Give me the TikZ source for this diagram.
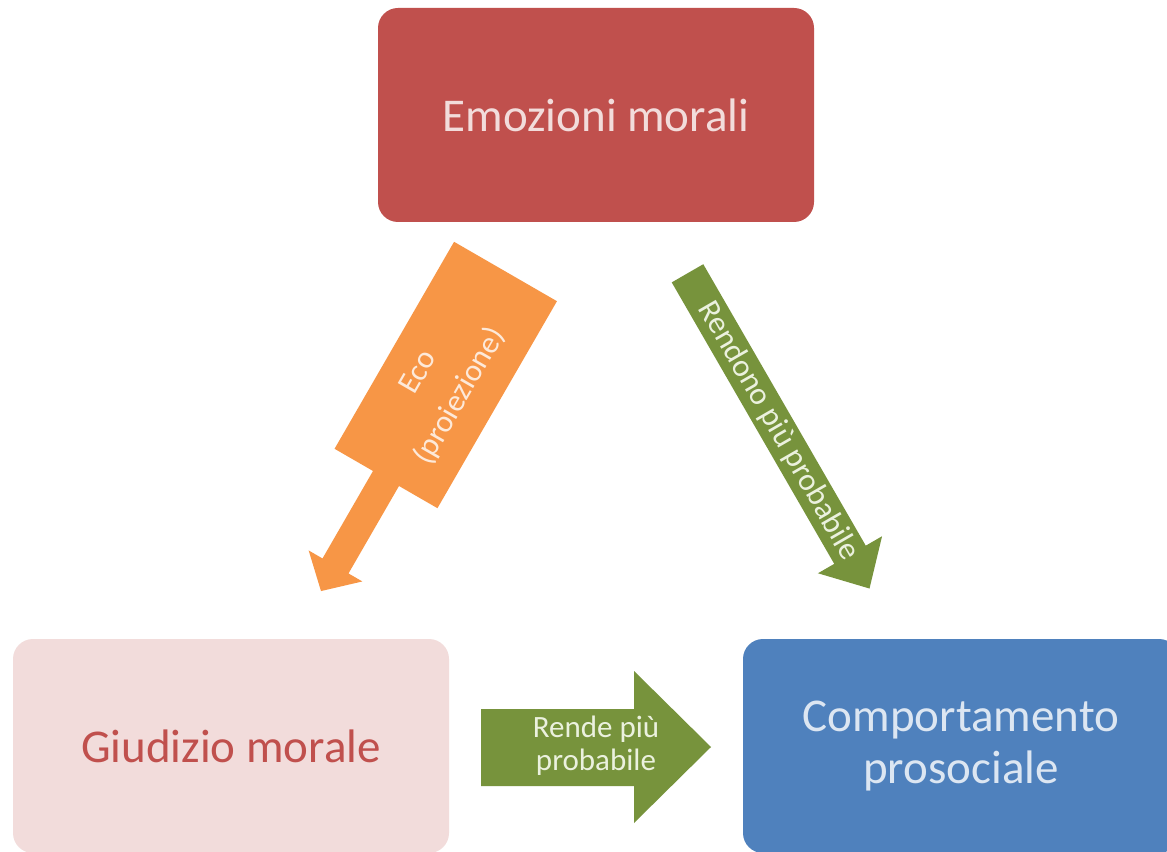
\documentclass[tikz,border=0pt]{standalone}
\usepackage{fontspec}
\setmainfont{Carlito}
\definecolor{redbox}{HTML}{C0504D}
\definecolor{pinkbox}{HTML}{F2DCDB}
\definecolor{bluebox}{HTML}{4F81BD}
\definecolor{bluetext}{HTML}{DCE6F2}
\definecolor{orangearr}{HTML}{F79646}
\definecolor{orangetext}{HTML}{FDE9D9}
\definecolor{greenarr}{HTML}{77933C}
\definecolor{greentext}{HTML}{EBF1DE}
\tikzset{
  bigbox/.style={rounded corners=15pt, minimum width=327pt, minimum height=160.5pt,
    inner sep=0pt, align=center, font=\fontsize{35.25}{39}\selectfont},
  arrowlabel/.style={inner sep=0pt, align=center, font=\fontsize{23.25}{24.75}\selectfont}
}
\begin{document}
\begin{tikzpicture}[x=0.75pt,y=-0.75pt]
\clip (0,0) rectangle (1167,852);
\fill[white] (0,0) rectangle (1167,852);
% boxes
\node[bigbox, fill=redbox, text=pinkbox] (emo) at (596,115) {Emozioni morali};
\node[bigbox, fill=pinkbox, text=redbox] (giu) at (231,746) {Giudizio morale};
\node[bigbox, fill=bluebox, text=bluetext] (com) at (961,746) {Comportamento\\prosociale};
% orange callout arrow
\begin{scope}[shift={(505.5,271.5)}, rotate=-30]
  \fill[orangearr] (-59.4,0) -- (59.4,0) -- (59.4,239) -- (15,239) -- (15,340) -- (31,340)
     -- (0,369) -- (-31,340) -- (-15,340) -- (-15,239) -- (-59.4,239) -- cycle;
  \node[arrowlabel, font=\fontsize{23.5}{36}\selectfont, text=orangetext, rotate=60] (eco) at (0,131) {Eco\\(proiezione)};
\end{scope}
% green diagonal arrow
\begin{scope}[shift={(687.5,273.3)}, rotate=30]
  \fill[greenarr] (-18.2,0) -- (18.2,0) -- (18.2,325) -- (37,325) -- (0,364)
     -- (-37,325) -- (-18.2,325) -- cycle;
  \node[arrowlabel, font=\fontsize{23.75}{24.75}\selectfont, text=greentext, rotate=-60] (ren) at (0,182) {Rendono più probabile};
\end{scope}
% green horizontal arrow
\fill[greenarr] (481,709) -- (634,709) -- (634,671) -- (711,747) -- (634,823) -- (634,786) -- (481,786) -- cycle;
\node[arrowlabel, text=greentext] (rende) at (596,746) {Rende più\\probabile};
\end{tikzpicture}
\end{document}
